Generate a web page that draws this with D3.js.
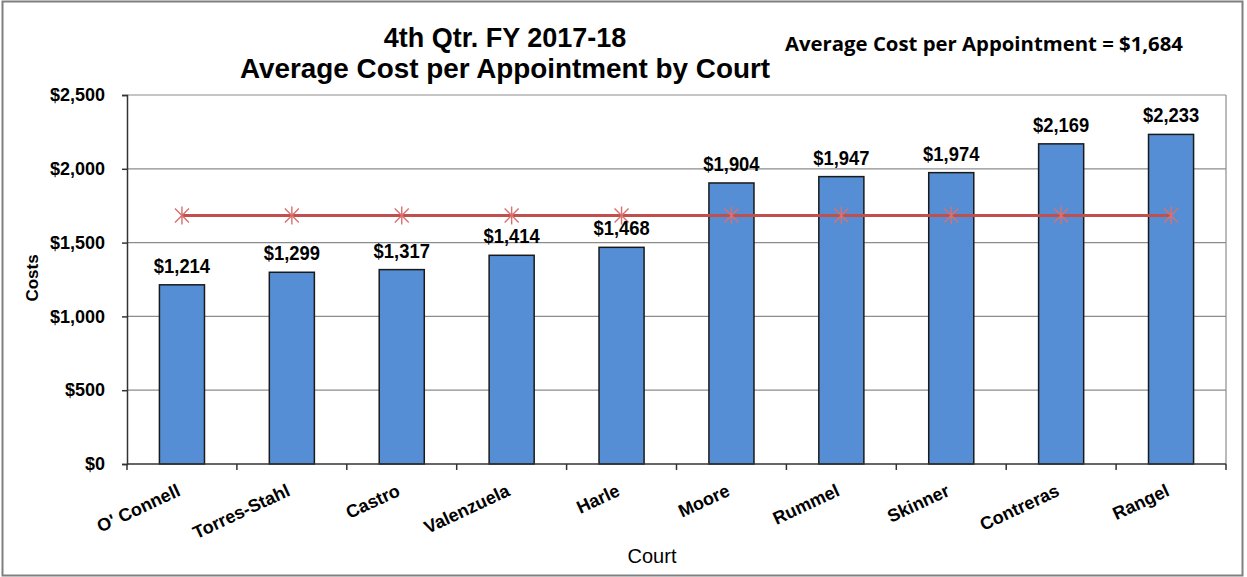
<!DOCTYPE html>
<html>
<head>
<meta charset="utf-8">
<script src="https://cdn.jsdelivr.net/npm/d3@7"></script>
<style>
  body { margin: 0; background: #fff; }
  svg { display: block; }
</style>
</head>
<body>
<div id="chart"></div>
<script>
// chart values
var courts = ["O' Connell", "Torres-Stahl", "Castro", "Valenzuela", "Harle",
  "Moore", "Rummel", "Skinner", "Contreras", "Rangel"];
var costs = [1214, 1299, 1317, 1414, 1468, 1904, 1947, 1974, 2169, 2233];
var averageCost = 1684;
var yTicks = [0, 500, 1000, 1500, 2000, 2500];

var svgWidth = 1247;
var svgHeight = 577;

// plot area margins
var margin = { top: 95, right: 21, bottom: 113, left: 127 };
var chartWidth = svgWidth - margin.left - margin.right;
var chartHeight = svgHeight - margin.top - margin.bottom;

var svg = d3.select("#chart")
  .append("svg")
  .attr("width", svgWidth)
  .attr("height", svgHeight);

// outer frame
svg.append("rect")
  .attr("x", 2.5).attr("y", 1.5)
  .attr("width", 1240).attr("height", 574)
  .attr("fill", "#fff")
  .attr("stroke", "#7f7f7f")
  .attr("stroke-width", 2);

var chartGroup = svg.append("g")
  .attr("transform", `translate(${margin.left}, ${margin.top})`);

var xScale = d3.scaleBand()
  .domain(courts)
  .range([0, chartWidth])
  .paddingInner(0.59)
  .paddingOuter(0.295);

var xBand = d3.scaleBand().domain(courts).range([0, chartWidth]);

var yScale = d3.scaleLinear()
  .domain([0, 2500])
  .range([chartHeight, 0]);

var fmt = d => "$" + d3.format(",")(d);

// gridlines
chartGroup.append("g")
  .selectAll("line")
  .data(yTicks.filter(d => d > 0))
  .enter()
  .append("line")
  .attr("x1", 0).attr("x2", chartWidth)
  .attr("y1", d => yScale(d)).attr("y2", d => yScale(d))
  .attr("stroke", "#8c8c8c")
  .attr("stroke-width", 1.2);

// right edge of plot area
chartGroup.append("line")
  .attr("x1", chartWidth).attr("x2", chartWidth)
  .attr("y1", 0).attr("y2", chartHeight)
  .attr("stroke", "#8c8c8c")
  .attr("stroke-width", 1.2);

// bars
chartGroup.selectAll("rect.bar")
  .data(costs)
  .enter()
  .append("rect")
  .attr("class", "bar")
  .attr("x", (d, i) => xScale(courts[i]))
  .attr("y", d => yScale(d))
  .attr("width", xScale.bandwidth())
  .attr("height", d => chartHeight - yScale(d))
  .attr("fill", "#558ed5")
  .attr("stroke", "#1a1a1a")
  .attr("stroke-width", 1.5);

// average line
var cx = c => xBand(c) + xBand.bandwidth() / 2;
var line = d3.line()
  .x(d => cx(d))
  .y(() => yScale(averageCost));

chartGroup.append("path")
  .datum(courts)
  .attr("d", line)
  .attr("fill", "none")
  .attr("stroke", "#c0504d")
  .attr("stroke-width", 3);

// star markers
var star = "M-7,-7L7,7M-7,7L7,-7M0,-9L0,9";
chartGroup.selectAll("path.star")
  .data(courts)
  .enter()
  .append("path")
  .attr("class", "star")
  .attr("transform", d => `translate(${cx(d)},${yScale(averageCost)})`)
  .attr("d", star)
  .attr("stroke", "#d9716e")
  .attr("stroke-width", 1.4)
  .attr("fill", "none");

// data labels (narrowed a bit like the original font)
chartGroup.selectAll("text.val")
  .data(costs)
  .enter()
  .append("text")
  .attr("class", "val")
  .attr("transform", (d, i) => `translate(${cx(courts[i])},${yScale(d) - 12}) scale(0.92,1)`)
  .attr("text-anchor", "middle")
  .style("font-family", "'Liberation Sans', Arial, sans-serif")
  .style("font-weight", "bold")
  .style("font-size", "20px")
  .attr("fill", "#000")
  .text(fmt);

// y axis
var leftAxis = d3.axisLeft(yScale)
  .tickValues(yTicks)
  .tickFormat(fmt)
  .tickSize(5)
  .tickPadding(17);

var yAxis = chartGroup.append("g").call(leftAxis);
yAxis.select(".domain").attr("stroke", "#333").attr("stroke-width", 1.5);
yAxis.selectAll(".tick line").attr("stroke", "#333").attr("stroke-width", 1.5);
yAxis.selectAll("text")
  .style("font-family", "'Liberation Sans', Arial, sans-serif")
  .style("font-weight", "bold")
  .style("font-size", "18px")
  .attr("fill", "#000");

// x axis with ticks at category boundaries
var xAxisG = chartGroup.append("g")
  .attr("transform", `translate(0, ${chartHeight})`);
xAxisG.append("line")
  .attr("x1", 0).attr("x2", chartWidth)
  .attr("stroke", "#333").attr("stroke-width", 1.5);
xAxisG.selectAll("line.tk")
  .data(courts.concat(["end"]))
  .enter()
  .append("line")
  .attr("class", "tk")
  .attr("x1", (d, i) => i * xBand.bandwidth())
  .attr("x2", (d, i) => i * xBand.bandwidth())
  .attr("y1", 0).attr("y2", 6)
  .attr("stroke", "#333").attr("stroke-width", 1.5);

xAxisG.selectAll("text")
  .data(courts)
  .enter()
  .append("text")
  .attr("transform", d => `translate(${cx(d) - 0.5}, 31) rotate(-25)`)
  .attr("text-anchor", "end")
  .style("font-family", "'Liberation Sans', Arial, sans-serif")
  .style("font-weight", "bold")
  .style("font-size", "18px")
  .attr("fill", "#000")
  .text(d => d);

// axis titles
svg.append("text")
  .attr("transform", "translate(38, 278) rotate(-90)")
  .attr("text-anchor", "middle")
  .style("font-family", "'Liberation Sans', Arial, sans-serif")
  .style("font-weight", "bold")
  .style("font-size", "17px")
  .text("Costs");

svg.append("text")
  .attr("x", 652).attr("y", 563)
  .attr("text-anchor", "middle")
  .style("font-family", "'Liberation Sans', Arial, sans-serif")
  .style("font-size", "20px")
  .text("Court");

// titles
svg.append("text")
  .attr("x", 505).attr("y", 47)
  .attr("text-anchor", "middle")
  .style("font-family", "'Liberation Sans', Arial, sans-serif")
  .style("font-weight", "bold")
  .style("font-size", "27px")
  .text("4th Qtr. FY 2017-18");

svg.append("text")
  .attr("x", 505).attr("y", 78)
  .attr("text-anchor", "middle")
  .style("font-family", "'Liberation Sans', Arial, sans-serif")
  .style("font-weight", "bold")
  .style("font-size", "27px")
  .attr("textLength", 530)
  .attr("lengthAdjust", "spacingAndGlyphs")
  .text("Average Cost per Appointment by Court");

svg.append("text")
  .attr("x", 785).attr("y", 51)
  .style("font-family", "'Open Sans', 'Noto Sans', sans-serif")
  .style("font-weight", "bold")
  .style("font-size", "19px")
  .attr("textLength", 398)
  .attr("lengthAdjust", "spacingAndGlyphs")
  .text("Average Cost per Appointment = " + fmt(averageCost));
</script>
</body>
</html>
